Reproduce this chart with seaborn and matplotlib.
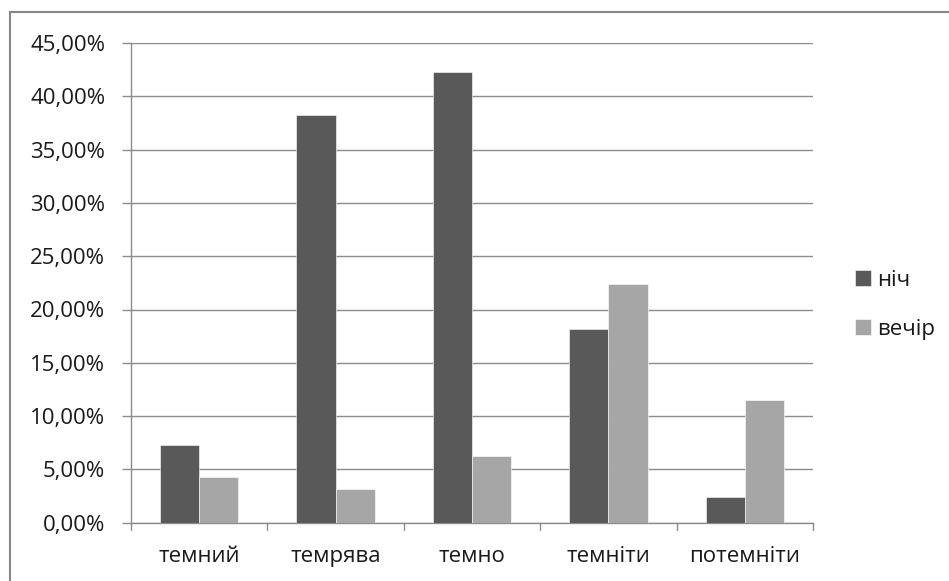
import matplotlib
matplotlib.use("Agg")
import matplotlib.pyplot as plt
import matplotlib.patches as mpatches
from matplotlib.ticker import FuncFormatter
import seaborn as sns
import pandas as pd

categories = ["темний", "темрява", "темно", "темніти", "потемніти"]
series_names = ["ніч", "вечір"]
nich = [7.25, 38.2, 42.25, 18.2, 2.45]
vechir = [4.25, 3.2, 6.3, 22.4, 11.5]
y_ticks = [0, 5, 10, 15, 20, 25, 30, 35, 40, 45]

df = pd.DataFrame({
    "cat": categories * 2,
    "series": [series_names[0]] * len(categories) + [series_names[1]] * len(categories),
    "value": nich + vechir,
})

sns.set_theme(style="white")
plt.rcParams["font.family"] = ["Open Sans", "DejaVu Sans"]

FS = 16
fig = plt.figure(figsize=(9.49, 5.81), dpi=100)
ax = fig.add_axes([131 / 949, 1 - 522.7 / 581, (813 - 131) / 949, (522.7 - 43) / 581])

palette = {"ніч": "#595959", "вечір": "#A6A6A6"}
sns.barplot(data=df, x="cat", y="value", hue="series", palette=palette,
            order=categories, hue_order=series_names, width=0.575,
            edgecolor="white", linewidth=0.4, ax=ax, legend=True, zorder=3)

ax.set_ylim(0, 45)
ax.set_yticks(y_ticks)
ax.yaxis.set_major_formatter(FuncFormatter(lambda v, p: f"{v:.2f}%".replace(".", ",")))
ax.set_xlim(-0.5, len(categories) - 0.5)
ax.set_xlabel("")
ax.set_ylabel("")

grid_c = "#8C8C8C"
ax.yaxis.grid(True, color=grid_c, linewidth=1.0, zorder=0)
ax.set_axisbelow(True)
for s in ["top", "right"]:
    ax.spines[s].set_visible(False)
for s in ["left", "bottom"]:
    ax.spines[s].set_color(grid_c)
    ax.spines[s].set_linewidth(1.0)

ax.set_xticks(list(range(len(categories))))
ax.set_xticklabels(categories)
ax.tick_params(axis="x", length=0, pad=17, labelsize=FS, labelcolor="#1a1a1a")
ax.tick_params(axis="y", length=6.5, width=1, color=grid_c, pad=12, labelsize=FS,
               labelcolor="#1a1a1a", left=True)
for b in range(len(categories) + 1):
    ax.plot([b - 0.5, b - 0.5], [0, -0.7], color=grid_c, lw=1,
            clip_on=False, zorder=4)
ax.set_ylim(0, 45)

leg = ax.legend(loc="upper left", bbox_to_anchor=(855 / 949, 1 - 270 / 581),
                bbox_transform=fig.transFigure, frameon=False, fontsize=FS,
                handlelength=0.72, handleheight=0.72, handletextpad=0.27,
                labelspacing=1.26, borderpad=0, borderaxespad=0)
for t in leg.get_texts():
    t.set_color("#1a1a1a")

frame = mpatches.Rectangle((10 / 949, -0.1), 1.2, 1 - 12 / 581 + 0.1,
                           transform=fig.transFigure, fill=False,
                           edgecolor="#888888", linewidth=1.5)
fig.patches.append(frame)

fig.savefig("out.png", dpi=100, facecolor="white")
